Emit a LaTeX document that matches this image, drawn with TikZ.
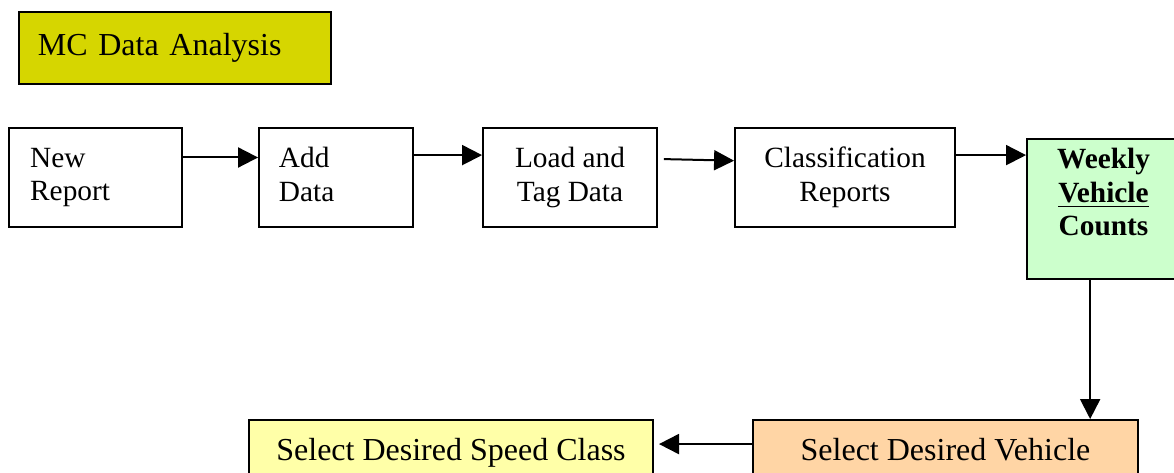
\documentclass[tikz,border=0pt]{standalone}
\usepackage{fontspec}
\setmainfont{Liberation Serif}
\usepackage{tikz}
\usetikzlibrary{arrows.meta}
\definecolor{titlefill}{HTML}{D6D600}
\definecolor{countfill}{HTML}{CCFFCC}
\definecolor{vehfill}{HTML}{FFD5A5}
\definecolor{speedfill}{HTML}{FFFFA8}
\tikzset{
  every picture/.style={line join=miter, >={Triangle[length=7.5pt,width=7.5pt]}},
  box/.style={draw, line width=0.7pt, inner ysep=1pt, font=\fontsize{11}{12.6}\selectfont},
  leftbox/.style={box, align=left, minimum height=37.125pt},
  midbox/.style={box, align=center, minimum height=37.125pt},
  lowbox/.style={box, align=center, minimum height=23.25pt, text height=10pt, text depth=2.6pt,
    font=\fontsize{12}{14}\selectfont},
  arr/.style={->, line width=0.75pt},
}

\begin{document}
\begin{tikzpicture}[x=0.375pt,y=-0.375pt]
\useasboundingbox (0,0) rectangle (1174,473);
% title
\node[draw, line width=1.1pt, fill=titlefill, minimum width=117pt, minimum height=27pt,
  inner xsep=7.1pt, text width=102.8pt, align=left, font=\fontsize{12}{14}\selectfont]
  (title) at (175,48) {MC Data Analysis};
% top row
\node[leftbox, inner xsep=7.9pt, text width=49pt] (new) at (95.5,177.5) {New\\Report};
\node[leftbox, inner xsep=7.5pt, text width=42.75pt] (add) at (336,177.5) {Add\\Data\vphantom{p}};
\node[midbox, minimum width=65.25pt] (load) at (570,177.5) {Load and\\Tag Data};
\node[midbox, minimum width=82.5pt] (cls) at (845,177.5) {Classification\\Reports};
\node[box, fill=countfill, align=center, minimum width=57.4pt, minimum height=52.5pt,
  font=\fontsize{11}{12.6}\selectfont\bfseries]
  (weekly) at (1103.5,209) {Weekly\\\underline{Vehicle}\\Counts\\\mbox{}};
% bottom row
\node[lowbox, fill=vehfill, minimum width=144.4pt] (vehicle) at (945.5,451) {Select Desired Vehicle};
\node[lowbox, fill=speedfill, minimum width=151.5pt] (speed) at (451,451) {Select Desired Speed Class};
% arrows
\draw[arr] ([yshift=7.5pt]new.east) -- ([yshift=7.5pt]add.west);
\draw[arr] ([yshift=8.4pt]add.east) -- ([yshift=8.4pt]load.west);
\draw[arr] ([xshift=2.2pt,yshift=6.9pt]load.east) -- ([yshift=6.3pt]cls.west);
\draw[arr] ([yshift=8.4pt]cls.east) -- ([yshift=8.4pt]weekly.west |- cls.east);
\draw[arr] ([xshift=-5pt]weekly.south) -- ([xshift=-5pt]weekly.south |- vehicle.north);
\draw[arr] ([yshift=2.6pt]vehicle.west) -- ([xshift=1.9pt,yshift=2.6pt]speed.east);
\end{tikzpicture}
\end{document}
